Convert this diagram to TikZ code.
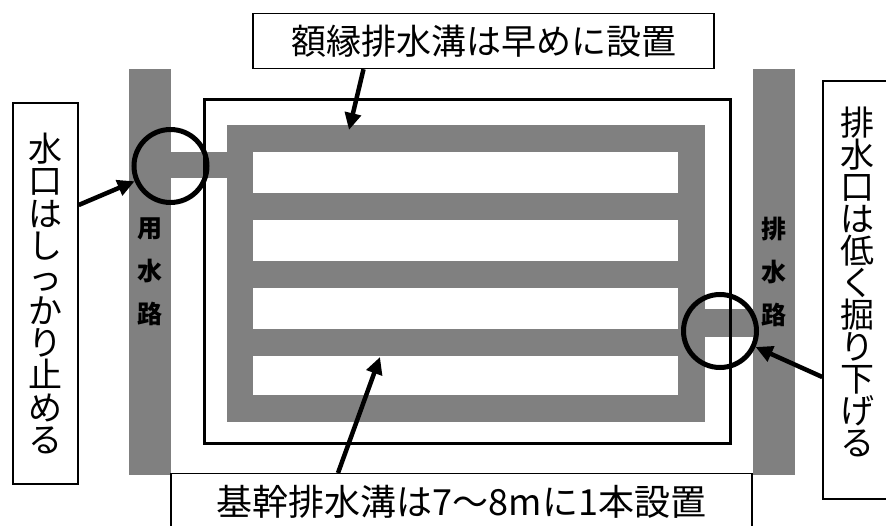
\documentclass[tikz,border=0pt]{standalone}
\usepackage{fontspec}
\newfontfamily\jp{Noto Sans CJK JP}
\usetikzlibrary{arrows.meta}
\definecolor{chgray}{RGB}{128,128,128}
\begin{document}
\begin{tikzpicture}[x=1pt,y=-1pt,
  channel/.style={fill=chgray, draw=none, minimum width=42pt, minimum height=406pt, inner sep=0pt, align=center, font=\jp\bfseries\fontsize{25}{43}\selectfont},
  callout/.style={draw=black, line width=1.4pt, fill=white, inner sep=0pt, align=center},
  ringmark/.style={circle, draw=black, line width=5pt, minimum size=73pt, inner sep=0pt},
  arr/.style={line width=4.5pt, -{Triangle[length=17pt,width=16pt]}},
  ]
\fill[white] (0,0) rectangle (886,526);
\useasboundingbox (0,0) rectangle (886,526);
% channels
\node[channel] (inch) at (150,272) {用\\水\\路};
\node[channel] (outch) at (774,272) {排\\水\\路};
% inlet and outlet
\fill[chgray] (171,152) rectangle (228,178);
\fill[chgray] (704,309) rectangle (753,337);
% drain ring
\fill[chgray] (227,125) rectangle (705,422);
\foreach \a/\b in {152/193, 220/261, 288/329, 356/395} \fill[white] (253,\a) rectangle (678,\b);
% field
\draw[line width=3pt] (204,100) rectangle (730,443);
% circles
\node[ringmark] (lcirc) at (170.5,166) {};
\node[ringmark] (rcirc) at (720,331) {};
% callouts
\node[callout, minimum width=461pt, minimum height=55pt, font=\jp\fontsize{35}{35}\selectfont] (tbox) at (483.5,41) {額縁排水溝は早めに設置};
\node[callout, minimum width=65pt, minimum height=381pt, font=\jp\fontsize{34}{32.3}\selectfont] (lbox) at (45.5,293.5) {水\\口\\は\\し\\っ\\か\\り\\止\\め\\る};
\node[callout, minimum width=69pt, minimum height=418pt, font=\jp\fontsize{34}{32}\selectfont] (rbox) at (857.5,290) {\raisebox{8pt}[\height][\depth]{\parbox{40pt}{\centering 排\\水\\口\\は\\低\\く\\掘\\り\\下\\げ\\る}}};
\node[callout, anchor=north, minimum width=581pt, inner ysep=12pt, font=\jp\fontsize{36}{36}\selectfont] (bbox) at (461.5,473) {基幹排水溝は7～8mに1本設置};
% arrows
\coordinate (ttip) at (349,130);
\coordinate (btip) at (380,357);
\draw[arr] ([xshift=-120pt]tbox.south) -- (ttip);
\draw[arr] ([yshift=88.5pt]lbox.east) -- (lcirc);
\draw[arr] ([yshift=-87pt]rbox.west) -- (rcirc);
\draw[arr] ([xshift=-123.5pt]bbox.north) -- (btip);
\end{tikzpicture}
\end{document}
